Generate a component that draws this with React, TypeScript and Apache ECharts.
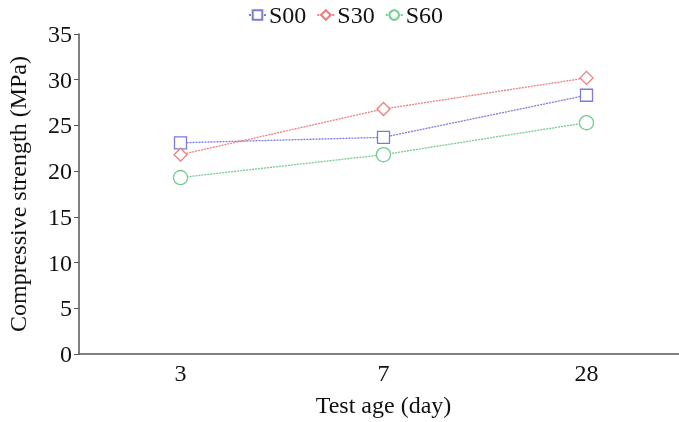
import React, { useEffect, useRef } from "react";
import * as echarts from "echarts";

const categories = ["3", "7", "28"];
const s00 = [23.1, 23.7, 28.3];
const s30 = [21.8, 26.8, 30.2];
const s60 = [19.3, 21.8, 25.3];
const seriesNames = ["S00", "S30", "S60"];
const colors = ["#7b7bd8", "#f07c7c", "#72cc8f"];
const symbols = ["rect", "diamond", "circle"];

export default function App() {
  const ref = useRef<HTMLDivElement>(null);
  useEffect(() => {
    const chart = echarts.init(ref.current!, null, { renderer: "svg" });
    const font = "Liberation Serif";
    const data = [s00, s30, s60];
    chart.setOption({
      animation: false,
      textStyle: { fontFamily: font },
      legend: {
        top: -2,
        left: 243,
        itemWidth: 17,
        itemHeight: 12,
        itemGap: 10,
        textStyle: { fontFamily: font, fontSize: 24, color: "#111", padding: [0, 0, 0, -2] },
        data: seriesNames,
      },
      grid: {
        left: 79,
        top: 34,
        width: 609,
        height: 320,
        outerBoundsMode: "none",
        containLabel: false,
      },
      xAxis: {
        type: "category",
        data: categories,
        boundaryGap: true,
        axisLine: { lineStyle: { color: "#555", width: 1.5 } },
        axisTick: { show: false },
        axisLabel: { fontFamily: font, fontSize: 24, color: "#111", margin: 7 },
        name: "Test age (day)",
        nameLocation: "middle",
        nameGap: 39,
        nameTextStyle: { fontFamily: font, fontSize: 24, color: "#111" },
      },
      yAxis: {
        type: "value",
        min: 0,
        max: 35,
        interval: 5,
        splitLine: { show: false },
        axisLine: { show: true, lineStyle: { color: "#555", width: 1.5 } },
        axisTick: { show: true, length: 5, lineStyle: { color: "#555" } },
        axisLabel: { fontFamily: font, fontSize: 24, color: "#111", margin: 7 },
        name: "Compressive strength (MPa)",
        nameLocation: "middle",
        nameGap: 49,
        nameTextStyle: { fontFamily: font, fontSize: 24, color: "#111" },
      },
      series: seriesNames.map((n, i) => ({
        name: n,
        type: "line",
        data: data[i],
        symbol: symbols[i],
        symbolSize: i === 2 ? 14 : i === 1 ? 13 : 12,
        showAllSymbol: true,
        itemStyle: { color: "#fff", borderColor: colors[i], borderWidth: 1.3 },
        lineStyle: { color: colors[i], width: 1.3, type: [2, 1] },
        color: colors[i],
      })),
    });
    return () => chart.dispose();
  }, []);
  return (
    <div
      ref={ref}
      style={{ position: "fixed", left: 0, top: 0, width: 679, height: 422 }}
    />
  );
}
